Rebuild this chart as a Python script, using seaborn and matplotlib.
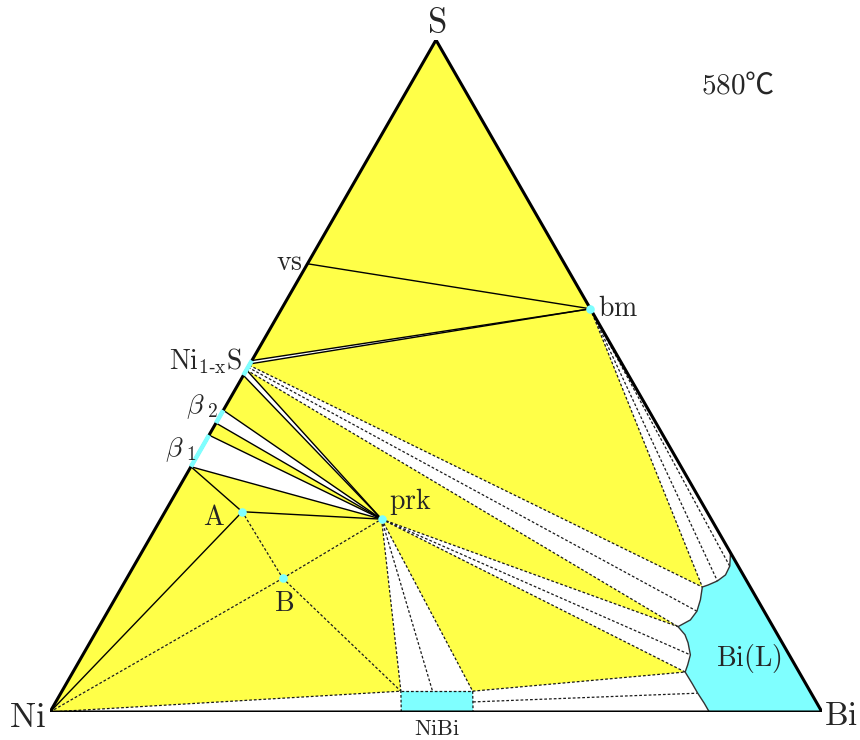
import matplotlib
matplotlib.use("Agg")
import numpy as np
import pandas as pd
import matplotlib.pyplot as plt
import seaborn as sns

# compositions in at.%, written as (Bi, S); Ni is the remainder
vs_pt = (0.0, 66.7)
bm_pt = (40.0, 60.0)
prk_pt = (28.6, 28.7)
a_pt = (10.0, 29.8)
b_pt = (20.2, 19.9)

# S content of phases / tie-line ends on the Ni-S side
nis_range = [50.1, 52.3]
nis_ties = [50.1, 50.9, 51.3, 51.6, 51.8, 52.3]
beta2_range = [43.0, 44.9]
beta1_range = [36.5, 41.2]

# NiBi field corners (Bi, S)
nibi_bottom_bi = [45.5, 54.8]
nibi_top_bi = [43.9, 53.2]
nibi_top_s = 3.1
nibi_mid_top = (48.0, 3.1)
nibi_side = (54.05, 1.5)

# Bi-rich liquid boundary, from the Bi-S side down to the Ni-Bi side
liq_bi = [76.3, 77.2, 77.3, 76.7, 75.8, 75.2, 75.9, 76.3, 76.1, 75.0,
          76.5, 77.5, 78.7, 79.1, 79.3, 81.1, 82.5, 84.1, 85.4]
liq_s = [23.7, 21.7, 20.4, 19.5, 18.9, 18.6, 16.7, 15.0, 13.7, 12.7,
         11.5, 10.3, 8.5, 7.0, 5.95, 4.2, 2.8, 1.3, 0.0]

YELLOW = "#ffff48"
CYAN = "#7fffff"


def tern(p):
    b, s = p
    return b / 100 + s / 200, s / 100


def side(s):
    return tern((0.0, s))


def liq(i):
    return tern((liq_bi[i], liq_s[i]))


ni = tern((0, 0))
bi = tern((100, 0))
s_top = tern((0, 100))
vs, bm, prk, pa, pb = [tern(p) for p in (vs_pt, bm_pt, prk_pt, a_pt, b_pt)]
n0, n1, n2, n3, n4, n5 = [side(s) for s in nis_ties]
b2lo, b2hi = side(beta2_range[0]), side(beta2_range[1])
b1lo, b1hi = side(beta1_range[0]), side(beta1_range[1])
nb_bl = tern((nibi_bottom_bi[0], 0))
nb_br = tern((nibi_bottom_bi[1], 0))
nb_tl = tern((nibi_top_bi[0], nibi_top_s))
nb_tr = tern((nibi_top_bi[1], nibi_top_s))
nb_mid = tern(nibi_mid_top)
nb_side = tern(nibi_side)

sns.set_theme(style="white")
plt.rcParams["mathtext.fontset"] = "cm"
plt.rcParams["font.family"] = ["DejaVu Serif", "DejaVu Sans"]

fig = plt.figure(figsize=(8.6, 7.4), dpi=100)
ax = fig.add_axes([50 / 860, 28 / 740, 772 / 860, 672 / 740])


def fill(pts, color=YELLOW, z=1):
    xs, ys = zip(*pts)
    ax.fill(xs, ys, color=color, lw=0, zorder=z)


def seg(p, q, dashed=False):
    if dashed:
        ax.plot([p[0], q[0]], [p[1], q[1]], color="#1a1a1a", lw=0.9,
                ls=(0, (2.2, 1.6)), zorder=3)
    else:
        ax.plot([p[0], q[0]], [p[1], q[1]], color="black", lw=1.0, zorder=3)


# three-phase triangles
for tri in [
    [s_top, vs, bm],
    [vs, n5, bm],
    [n3, n4, bm, liq(5)],
    [n1, prk, liq(9)],
    [n0, b2hi, prk],
    [b2lo, b1hi, prk],
    [b1lo, pa, prk],
    [ni, b1lo, pa],
    [ni, pa, pb],
    [pa, prk, pb],
    [ni, pb, nb_tl],
    [pb, prk, nb_tl],
    [prk, nb_tr, liq(14)],
]:
    fill(tri)

# single-phase fields
liq_pts = [liq(i) for i in range(len(liq_bi))] + [bi]
fill(liq_pts, CYAN, 2)
fill([nb_bl, nb_br, nb_tr, nb_tl], CYAN, 2)

# solid tie lines
for p, q in [(vs, bm), (n5, bm), (n4, bm), (n1, prk), (n0, prk),
             (b2hi, prk), (b2lo, prk), (b1hi, prk), (b1lo, prk),
             (b1lo, pa), (pa, prk), (ni, pa)]:
    seg(p, q)

# dashed tie lines
for p, q in [(n3, liq(5)), (n2, liq(7)), (n1, liq(9)),
             (bm, liq(5)), (bm, liq(3)), (bm, liq(1)),
             (prk, liq(9)), (prk, liq(12)), (prk, liq(14)),
             (prk, nb_tl), (prk, nb_mid), (prk, nb_tr),
             (nb_tr, liq(14)), (nb_side, liq(16)),
             (ni, pb), (pb, prk), (pa, pb), (pb, nb_tl), (ni, nb_tl),
             (nb_bl, nb_tl), (nb_tl, nb_tr), (nb_tr, nb_br)]:
    seg(p, q, dashed=True)

# liquid boundary
lx, ly = zip(*[liq(i) for i in range(len(liq_bi))])
sns.lineplot(x=list(lx), y=list(ly), sort=False, estimator=None,
             color="#333333", lw=1.0, ax=ax, zorder=3)

# triangle frame
ax.plot([ni[0], bi[0], s_top[0], ni[0]], [ni[1], bi[1], s_top[1], ni[1]],
        color="black", lw=2.2, zorder=4, solid_joinstyle="miter")

# solid-solution ranges on the Ni-S side
for lo, hi in [nis_range, beta2_range, beta1_range]:
    p, q = side(lo), side(hi)
    ax.plot([p[0], q[0]], [p[1], q[1]], color=CYAN, lw=3.2,
            solid_capstyle="butt", zorder=5)

# stoichiometric phases
dots = pd.DataFrame([bm, pa, pb, prk], columns=["x", "y"])
sns.scatterplot(data=dots, x="x", y="y", color=CYAN, s=38, linewidth=0,
                ax=ax, zorder=6, legend=False)
ax.set_xlim(0, 1)
ax.set_ylim(0, 1)
ax.axis("off")


def label(x, y, txt, size=20, ha="center", family=None):
    ax.text(x, y, txt, fontsize=size, ha=ha, va="center", zorder=7,
            family=family)


label(0.501, 1.025, r"$\mathrm{S}$", 25)
label(-0.029, -0.008, r"$\mathrm{Ni}$", 25)
label(1.024, -0.006, r"$\mathrm{Bi}$", 24)
label(0.891, 0.933, r"$580$℃", 21, family=["Noto Sans CJK JP", "DejaVu Serif"])
label(0.310, 0.669, r"$\mathrm{vs}$")
label(0.710, 0.600, r"$\mathrm{bm}$", ha="left")
label(0.249, 0.522, r"$\mathrm{Ni}_{\mathrm{1‐x}}\mathrm{S}$", ha="right")
label(0.197, 0.455, r"$\beta_{\ 2}$")
label(0.170, 0.390, r"$\beta_{\ 1}$")
label(0.212, 0.290, r"$\mathrm{A}$")
label(0.303, 0.162, r"$\mathrm{B}$")
label(0.467, 0.313, r"$\mathrm{prk}$")
label(0.501, -0.026, r"$\mathrm{NiBi}$", 16)
label(0.905, 0.079, r"$\mathrm{Bi(L)}$")

fig.savefig("out.png", dpi=100)
